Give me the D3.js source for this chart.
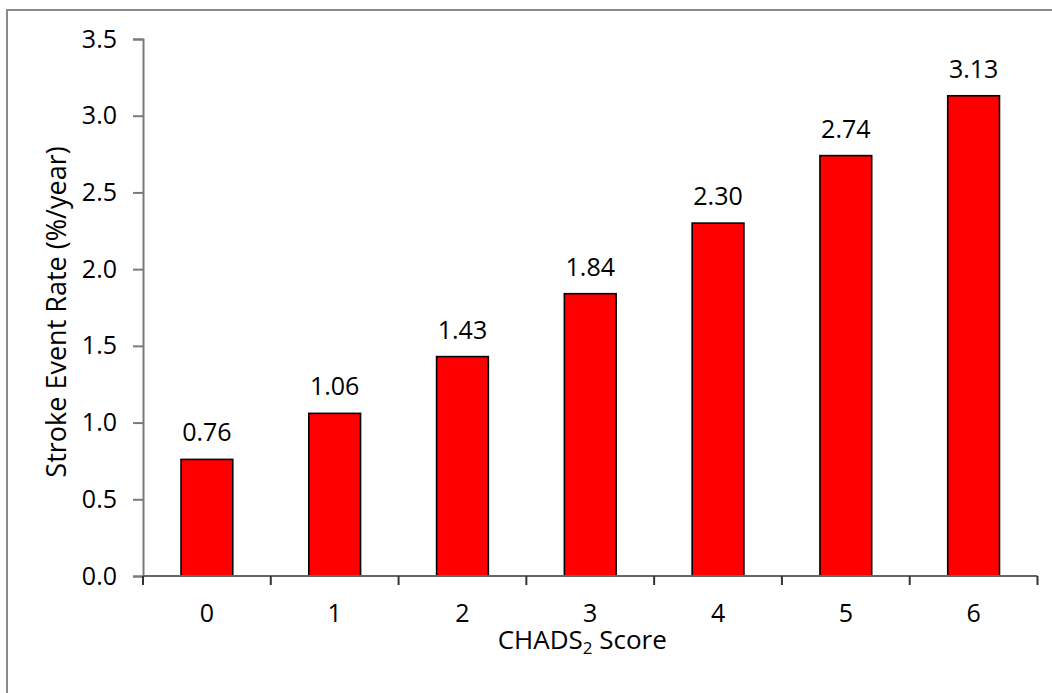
<!DOCTYPE html>
<html>
<head>
<meta charset="utf-8">
<script src="https://cdn.jsdelivr.net/npm/d3@7"></script>
<style>
  html, body { margin: 0; padding: 0; background: #fff; }
  svg { display: block; }
  text { font-family: "Open Sans", "Noto Sans", sans-serif; fill: #000; }
</style>
</head>
<body>
<svg id="chart" width="1052" height="693"></svg>
<script>
// CHADS2 score vs. annual stroke event rate
const scores = ["0", "1", "2", "3", "4", "5", "6"];
const strokeRates = [0.76, 1.06, 1.43, 1.84, 2.30, 2.74, 3.13];
const yTicks = [0, 0.5, 1.0, 1.5, 2.0, 2.5, 3.0, 3.5];

const FONT = "Open Sans";
const FS = 25;

const svg = d3.select("#chart");
const W = 1052, H = 693;
const plot = { left: 143, right: 1037.5, top: 39, bottom: 576 };

// outer frame (runs off the right and bottom edges)
svg.append("rect")
  .attr("x", 7).attr("y", 10)
  .attr("width", W + 10).attr("height", H + 10)
  .attr("fill", "#fff")
  .attr("stroke", "#8a8a8a")
  .attr("stroke-width", 2);

const y = d3.scaleLinear().domain([0, 3.5]).range([plot.bottom, plot.top]);
const x = d3.scaleBand().domain(scores)
  .range([plot.left, plot.right])
  .paddingInner(0.595).paddingOuter(0.2975);

// bars
svg.append("g").selectAll("rect")
  .data(strokeRates)
  .join("rect")
  .attr("x", (d, i) => x(scores[i]))
  .attr("y", d => y(d))
  .attr("width", x.bandwidth())
  .attr("height", d => y(0) - y(d))
  .attr("fill", "#ff0000")
  .attr("stroke", "#000")
  .attr("stroke-width", 1.6);

// value labels
svg.append("g").selectAll("text")
  .data(strokeRates)
  .join("text")
  .attr("x", (d, i) => x(scores[i]) + x.bandwidth() / 2)
  .attr("y", d => y(d) - 18)
  .attr("text-anchor", "middle")
  .attr("font-size", FS)
  .text(d => d.toFixed(2));

// y axis
const yAxis = svg.append("g")
  .attr("transform", `translate(${plot.left},0)`)
  .call(d3.axisLeft(y).tickValues(yTicks).tickFormat(d3.format(".1f")).tickSizeOuter(0).tickSize(10).tickPadding(16));
yAxis.select(".domain").attr("stroke", "#7a7a7a").attr("stroke-width", 2);
yAxis.selectAll(".tick line").attr("stroke", "#7a7a7a").attr("stroke-width", 2);
yAxis.selectAll(".tick text").attr("font-size", FS).attr("font-family", FONT).attr("fill", "#000");

// x axis: ticks sit on category boundaries
const xAxis = svg.append("g")
  .attr("transform", `translate(0,${plot.bottom})`);
xAxis.append("line")
  .attr("x1", plot.left).attr("x2", plot.right)
  .attr("stroke", "#666").attr("stroke-width", 2);
const step = x.step();
xAxis.selectAll("line.tk")
  .data(d3.range(scores.length + 1))
  .join("line")
  .attr("class", "tk")
  .attr("x1", i => plot.left + i * step)
  .attr("x2", i => plot.left + i * step)
  .attr("y1", 0).attr("y2", 9)
  .attr("stroke", "#333").attr("stroke-width", 2);
xAxis.selectAll("text")
  .data(scores)
  .join("text")
  .attr("x", d => x(d) + x.bandwidth() / 2)
  .attr("y", 46)
  .attr("text-anchor", "middle")
  .attr("font-size", FS)
  .text(d => d);

// axis titles
const xt = svg.append("text")
  .attr("x", (plot.left + plot.right) / 2 - 8)
  .attr("y", 649)
  .attr("text-anchor", "middle")
  .attr("font-size", FS + 1);
xt.append("tspan").text("CHADS");
xt.append("tspan").attr("font-size", 17).attr("dy", 5).text("2");
xt.append("tspan").attr("dy", -5).text(" Score");

svg.append("text")
  .attr("transform", "translate(66,312) rotate(-90)")
  .attr("text-anchor", "middle")
  .attr("font-size", 27)
  .text("Stroke Event Rate (%/year)");
</script>
</body>
</html>
